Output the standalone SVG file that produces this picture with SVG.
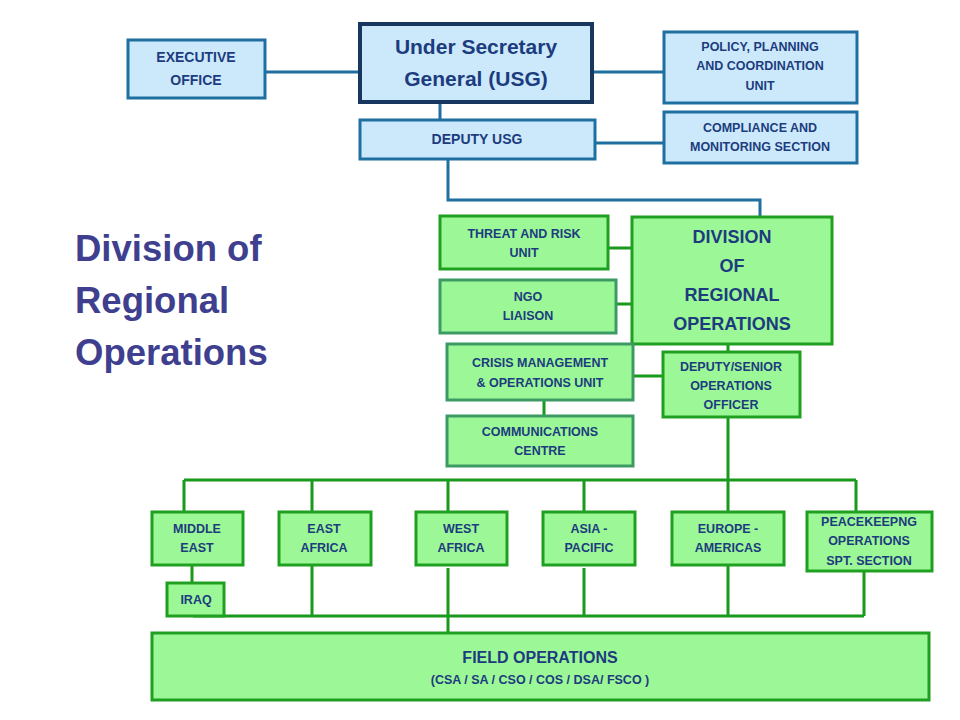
<svg xmlns="http://www.w3.org/2000/svg" width="960" height="720" viewBox="0 0 960 720">
<style>
.b{fill:#cce9fb;stroke:#1f6fa0;stroke-width:3}
.g{fill:#9cf797;stroke:#20a020;stroke-width:3}
.gt{fill:#9cf797;stroke:#3c9a64;stroke-width:3}
text{font-family:"Liberation Sans",Arial,sans-serif;font-weight:bold;fill:#1c3c7e;text-anchor:middle}
.s{font-size:12.5px}
.m{font-size:14px}
.t{font-size:36.5px;fill:#3f3f8f;text-anchor:start}
.cb{fill:none;stroke:#1f6fa0;stroke-width:3}
.cg{fill:none;stroke:#1a9a1a;stroke-width:3}
</style>
<rect width="960" height="720" fill="#fff"/>
<g id="connectors">
<path class="cb" d="M265 72H360M592 72H664M440 102V120M595 143H664M448 159V200H760V217"/>
<path class="cg" d="M608 248H632M616 304H632M728 344V352M633 376H663M544 400V416M728 417V480M184 480H856M184 480V512M312 480V512M448 480V512M584 480V512M728 480V512M856 480V512M192 565V583M193 616H864M312 565V616M448 568V633M584 568V616M728 565V616M864 571V616"/>
</g>
<g id="title"><text class="t" x="75" y="261">Division of</text><text class="t" x="75" y="313">Regional</text><text class="t" x="75" y="365">Operations</text></g>
<g id="exec"><rect class="b" x="128" y="40" width="137" height="58"/><text class="m" x="196" y="62">EXECUTIVE</text><text class="m" x="196" y="85">OFFICE</text></g>
<g id="usg"><rect x="360" y="24" width="232" height="78" fill="#cce9fb" stroke="#17375e" stroke-width="4"/><text x="476" y="54" style="font-size:21px">Under Secretary</text><text x="476" y="86" style="font-size:21px">General (USG)</text></g>
<g id="policy"><rect class="b" x="664" y="32" width="193" height="71"/><text class="s" x="760" y="51">POLICY, PLANNING</text><text class="s" x="760" y="70">AND COORDINATION</text><text class="s" x="760" y="90">UNIT</text></g>
<g id="deputy"><rect class="b" x="360" y="120" width="235" height="39"/><text class="m" x="477" y="144">DEPUTY  USG</text></g>
<g id="compliance"><rect class="b" x="664" y="112" width="193" height="51"/><text class="s" x="760" y="132">COMPLIANCE AND</text><text class="s" x="760" y="151">MONITORING SECTION</text></g>
<g id="threat"><rect class="g" x="440" y="216" width="168" height="53"/><text class="s" x="524" y="238">THREAT AND RISK</text><text class="s" x="524" y="257">UNIT</text></g>
<g id="ngo"><rect class="gt" x="440" y="280" width="176" height="53"/><text class="s" x="528" y="301">NGO</text><text class="s" x="528" y="320">LIAISON</text></g>
<g id="dro"><rect class="g" x="632" y="217" width="200" height="127"/><text x="732" y="243" style="font-size:18px">DIVISION</text><text x="732" y="272" style="font-size:18px">OF</text><text x="732" y="301" style="font-size:18px">REGIONAL</text><text x="732" y="330" style="font-size:18px">OPERATIONS</text></g>
<g id="crisis"><rect class="gt" x="447" y="344" width="186" height="56"/><text class="s" x="540" y="367">CRISIS MANAGEMENT</text><text class="s" x="540" y="387">&amp; OPERATIONS UNIT</text></g>
<g id="dso"><rect class="g" x="663" y="352" width="137" height="65"/><text class="s" x="731" y="371">DEPUTY/SENIOR</text><text class="s" x="731" y="390">OPERATIONS</text><text class="s" x="731" y="409">OFFICER</text></g>
<g id="comms"><rect class="gt" x="447" y="416" width="186" height="50"/><text class="s" x="540" y="436">COMMUNICATIONS</text><text class="s" x="540" y="455">CENTRE</text></g>
<g id="me"><rect class="g" x="152" y="512" width="91" height="53"/><text class="s" x="197" y="533">MIDDLE</text><text class="s" x="197" y="552">EAST</text></g>
<g id="ea"><rect class="g" x="279" y="512" width="92" height="53"/><text class="s" x="324" y="533">EAST</text><text class="s" x="324" y="552">AFRICA</text></g>
<g id="wa"><rect class="g" x="416" y="512" width="91" height="53"/><text class="s" x="461" y="533">WEST</text><text class="s" x="461" y="552">AFRICA</text></g>
<g id="ap"><rect class="g" x="543" y="512" width="92" height="53"/><text class="s" x="589" y="533">ASIA -</text><text class="s" x="589" y="552">PACIFIC</text></g>
<g id="eu"><rect class="g" x="672" y="512" width="112" height="53"/><text class="s" x="728" y="533">EUROPE -</text><text class="s" x="728" y="552">AMERICAS</text></g>
<g id="pk"><rect class="g" x="807" y="512" width="125" height="59"/><text class="s" x="869" y="526">PEACEKEEPNG</text><text class="s" x="869" y="545">OPERATIONS</text><text class="s" x="869" y="565">SPT. SECTION</text></g>
<g id="iraq"><rect class="g" x="167" y="583" width="57" height="33"/><text class="s" x="196" y="604">IRAQ</text></g>
<g id="field"><rect class="g" x="152" y="633" width="777" height="67"/><text x="540" y="663" style="font-size:16px">FIELD OPERATIONS</text><text x="540" y="684" style="font-size:12.5px">(CSA / SA / CSO / COS / DSA/ FSCO )</text></g>
</svg>
